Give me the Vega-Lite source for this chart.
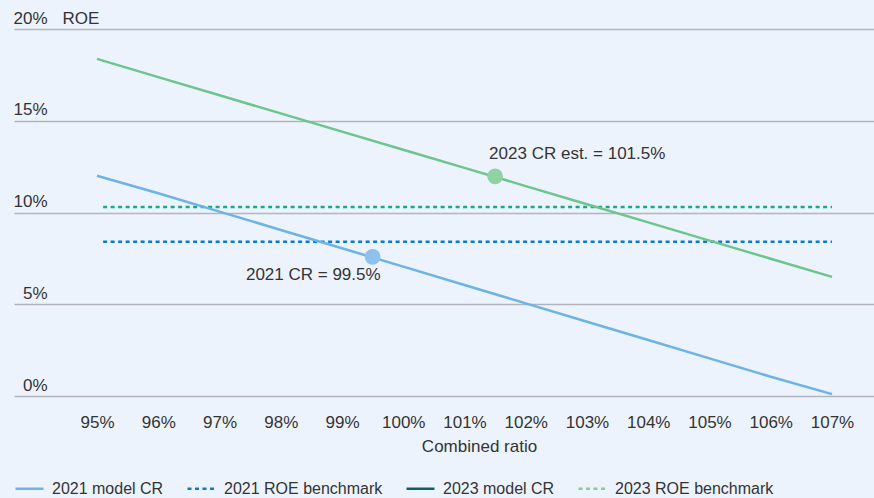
{
  "$schema": "https://vega.github.io/schema/vega-lite/v6.json",
  "width": 860,
  "height": 367,
  "autosize": {"type": "none"},
  "padding": {"left": 14, "top": 29, "right": 0, "bottom": 102},
  "background": "#edf3fc",
  "config": {
    "view": {"stroke": null},
    "font": "Liberation Sans",
    "text": {"font": "Liberation Sans"},
    "axis": {"labelFont": "Liberation Sans", "titleFont": "Liberation Sans"},
    "legend": {"labelFont": "Liberation Sans"}
  },
  "datasets": {
    "lines": [
      {"series": "2021 model CR", "cr": 95, "roe": 12.0},
      {"series": "2021 model CR", "cr": 96, "roe": 11.05},
      {"series": "2021 model CR", "cr": 97, "roe": 10.05},
      {"series": "2021 model CR", "cr": 98, "roe": 9.05},
      {"series": "2021 model CR", "cr": 99, "roe": 8.05},
      {"series": "2021 model CR", "cr": 100, "roe": 7.05},
      {"series": "2021 model CR", "cr": 101, "roe": 6.05},
      {"series": "2021 model CR", "cr": 102, "roe": 5.05},
      {"series": "2021 model CR", "cr": 103, "roe": 4.05},
      {"series": "2021 model CR", "cr": 104, "roe": 3.05},
      {"series": "2021 model CR", "cr": 105, "roe": 2.05},
      {"series": "2021 model CR", "cr": 106, "roe": 1.05},
      {"series": "2021 model CR", "cr": 107, "roe": 0.1},
      {"series": "2023 model CR", "cr": 95, "roe": 18.37},
      {"series": "2023 model CR", "cr": 96, "roe": 17.38},
      {"series": "2023 model CR", "cr": 97, "roe": 16.39},
      {"series": "2023 model CR", "cr": 98, "roe": 15.4},
      {"series": "2023 model CR", "cr": 99, "roe": 14.41},
      {"series": "2023 model CR", "cr": 100, "roe": 13.42},
      {"series": "2023 model CR", "cr": 101, "roe": 12.43},
      {"series": "2023 model CR", "cr": 102, "roe": 11.44},
      {"series": "2023 model CR", "cr": 103, "roe": 10.45},
      {"series": "2023 model CR", "cr": 104, "roe": 9.46},
      {"series": "2023 model CR", "cr": 105, "roe": 8.47},
      {"series": "2023 model CR", "cr": 106, "roe": 7.48},
      {"series": "2023 model CR", "cr": 107, "roe": 6.49}
    ],
    "benchmarks": [
      {"series": "2021 ROE benchmark", "cr": 95.1, "roe": 8.4},
      {"series": "2021 ROE benchmark", "cr": 107, "roe": 8.4},
      {"series": "2023 ROE benchmark", "cr": 95.1, "roe": 10.3},
      {"series": "2023 ROE benchmark", "cr": 107, "roe": 10.3}
    ],
    "points": [
      {"series": "2021 model CR", "cr": 99.5, "roe": 7.58, "label": "2021 CR = 99.5%"},
      {"series": "2023 model CR", "cr": 101.5, "roe": 11.97, "label": "2023 CR est. = 101.5%"}
    ],
    "legend": [
      {"series": "2021 model CR", "cr": 200, "roe": 5},
      {"series": "2021 model CR", "cr": 201, "roe": 5},
      {"series": "2021 ROE benchmark", "cr": 200, "roe": 5},
      {"series": "2021 ROE benchmark", "cr": 201, "roe": 5},
      {"series": "2023 model CR", "cr": 200, "roe": 5},
      {"series": "2023 model CR", "cr": 201, "roe": 5},
      {"series": "2023 ROE benchmark", "cr": 200, "roe": 5},
      {"series": "2023 ROE benchmark", "cr": 201, "roe": 5}
    ]
  },
  "encoding": {
    "x": {
      "field": "cr", "type": "quantitative",
      "scale": {"domain": [93.645, 107.686], "nice": false, "zero": false},
      "axis": {
        "values": [95, 96, 97, 98, 99, 100, 101, 102, 103, 104, 105, 106, 107],
        "labelExpr": "datum.value + '%'",
        "grid": false, "domain": false, "ticks": false, "tickSize": 0,
        "labelPadding": 26, "labelBaseline": "middle",
        "labelFontSize": 17, "labelColor": "#333333",
        "title": "Combined ratio", "titleFontSize": 17, "titleFontWeight": "normal",
        "titleColor": "#333333", "titleX": 465, "titleY": 50,
        "titleAlign": "center", "titleBaseline": "middle"
      }
    },
    "y": {
      "field": "roe", "type": "quantitative",
      "scale": {"domain": [0, 20], "nice": false},
      "axis": {
        "values": [0, 5, 10, 15, 20],
        "labelExpr": "datum.value + '%'",
        "grid": true, "gridColor": "#b3b4bb", "gridWidth": 1.5,
        "domain": false, "ticks": false, "tickSize": 0,
        "labelAlign": "right", "labelPadding": -33, "labelBaseline": "alphabetic",
        "labelOffset": -6, "labelFontSize": 17, "labelColor": "#333333",
        "title": "ROE", "titleAngle": 0, "titleX": 48, "titleY": -6,
        "titleAlign": "left", "titleBaseline": "alphabetic",
        "titleFontSize": 17, "titleFontWeight": "normal", "titleColor": "#333333"
      }
    }
  },
  "layer": [
    {
      "data": {"name": "legend"},
      "mark": {"type": "line", "clip": true, "strokeWidth": 2.5},
      "encoding": {
        "color": {
          "field": "series", "type": "nominal",
          "scale": {
            "domain": ["2021 model CR", "2021 ROE benchmark", "2023 model CR", "2023 ROE benchmark"],
            "range": ["#6cb3e6", "#0a7bcb", "#0e5f66", "#7fd09a"]
          },
          "legend": {
            "title": null, "orient": "none", "direction": "horizontal",
            "legendX": 0, "legendY": 444,
            "symbolType": "stroke", "symbolSize": 784, "symbolStrokeWidth": 2.5,
            "labelFontSize": 16, "labelColor": "#333333", "labelOffset": 7,
            "labelLimit": 0, "columnPadding": 18
          }
        },
        "strokeDash": {
          "field": "series", "type": "nominal",
          "scale": {
            "domain": ["2021 model CR", "2021 ROE benchmark", "2023 model CR", "2023 ROE benchmark"],
            "range": [[1, 0], [4, 3.5], [1, 0], [4, 3.5]]
          },
          "legend": null
        }
      }
    },
    {
      "data": {"name": "benchmarks"},
      "transform": [{"filter": "datum.series == '2021 ROE benchmark'"}],
      "mark": {"type": "line", "strokeWidth": 2.5, "strokeDash": [4, 3.5], "color": "#0a7bcb"},
      "encoding": {}
    },
    {
      "data": {"name": "benchmarks"},
      "transform": [{"filter": "datum.series == '2023 ROE benchmark'"}],
      "mark": {"type": "line", "strokeWidth": 2.5, "strokeDash": [4, 3.5], "color": "#17a98a"},
      "encoding": {}
    },
    {
      "data": {"name": "lines"},
      "transform": [{"filter": "datum.series == '2021 model CR'"}],
      "mark": {"type": "line", "strokeWidth": 2.5, "color": "#6cb3e6"},
      "encoding": {}
    },
    {
      "data": {"name": "lines"},
      "transform": [{"filter": "datum.series == '2023 model CR'"}],
      "mark": {"type": "line", "strokeWidth": 2.5, "color": "#6cc58c"},
      "encoding": {}
    },
    {
      "data": {"name": "points"},
      "transform": [{"filter": "datum.series == '2021 model CR'"}],
      "mark": {"type": "circle", "size": 245, "opacity": 1, "color": "#8cc2eb"},
      "encoding": {}
    },
    {
      "data": {"name": "points"},
      "transform": [{"filter": "datum.series == '2023 model CR'"}],
      "mark": {"type": "circle", "size": 245, "opacity": 1, "color": "#8fd3a2"},
      "encoding": {}
    },
    {
      "data": {"name": "points"},
      "transform": [{"filter": "datum.series == '2021 model CR'"}],
      "mark": {"type": "text", "align": "right", "baseline": "middle", "dx": 8, "dy": 18, "fontSize": 17, "color": "#333333"},
      "encoding": {"text": {"field": "label"}}
    },
    {
      "data": {"name": "points"},
      "transform": [{"filter": "datum.series == '2023 model CR'"}],
      "mark": {"type": "text", "align": "left", "baseline": "middle", "dx": -6, "dy": -22, "fontSize": 17, "color": "#333333"},
      "encoding": {"text": {"field": "label"}}
    }
  ]
}
